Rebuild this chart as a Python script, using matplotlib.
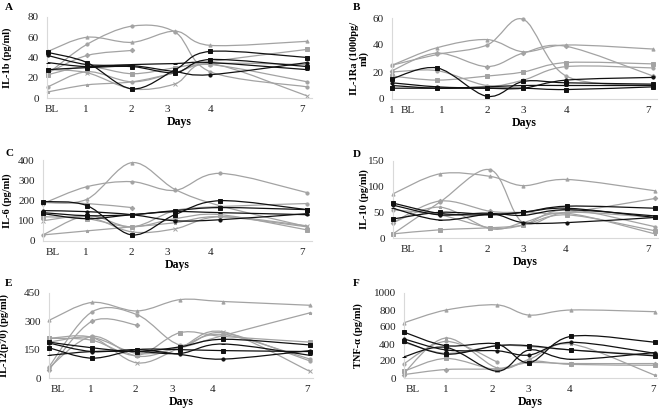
#Cytokine time courses, six panels (A-F)

import numpy as np
import matplotlib
matplotlib.use("Agg")
import matplotlib.pyplot as plt
from matplotlib.path import Path
from matplotlib.patches import PathPatch

plt.rcParams['font.family'] = ['Liberation Serif', 'DejaVu Serif']

days = ["BL", "1", "2", "3", "4", "7"]
nan = np.nan

#sampling times as drawn on each panel's x axis
t_il1b = [0.02, 0.93, 1.98, 2.98, 3.79, 6.05]
t_il1ra = [0.0, 1.05, 2.21, 3.05, 4.05, 6.07]
t_il6 = [0.0, 1.02, 2.07, 3.07, 4.12, 6.14]
t_il10 = [0.0, 1.09, 2.26, 3.02, 4.05, 6.09]
t_il12 = [0.0, 1.0, 2.05, 3.05, 4.05, 6.07]
t_tnf = [0.0, 0.98, 2.16, 2.91, 3.88, 5.84]

il1b_gray = [[46, 60, 55, 66, 52, 56],
             [24, 53, 71, 65, 26, 11],
             [25, 42, 47, nan, nan, nan],
             [23, 31, 24, 30, 36, 48],
             [11, 26, 16, 25, 33, 16],
             [6, 13, 16, 25, 34, 33],
             [28, 25, 9, 14, 34, 2]]
il1b_black = [[45, 35, 9, 28, 46, 40],
              [42, 33, 32, 26, 23, 35],
              [35, 31, 33, 34, 35, 28],
              [28, 30, 31, 25, 38, 31]]

il1ra_gray = [[25, 38, 44, 35, 40, 37],
              [25, 33, 40, 59, 17, 10],
              [21, 34, 24, 34, 39, 17],
              [17, 14, 17, 20, 27, 26],
              [20, 21, 10, 14, 24, 23]]
il1ra_black = [[15, 23, 2, 13, 12, 11],
               [12, 9, 8, 8, 14, 16],
               [10, 8, 9, 10, 10, 10],
               [8, 8, 8, 8, 7, 9]]

il6_gray = [[191, 206, 387, 255, 174, 71],
            [185, 268, 293, 250, 334, 239],
            [190, 185, 165, nan, nan, nan],
            [120, 110, 70, 110, 130, 55],
            [30, 125, 70, 150, 170, 185],
            [30, 50, 70, 90, 120, 70],
            [100, 120, 45, 60, 120, 75]]
il6_black = [[195, 175, 30, 130, 199, 155],
             [150, 145, 130, 100, 105, 135],
             [135, 110, 130, 145, 140, 130],
             [140, 125, 130, 150, 165, 155]]

il10_gray = [[86, 125, 120, 102, 114, 92],
             [8, 70, 133, 30, 50, 40],
             [30, 72, 52, 50, 50, 77],
             [8, 16, 20, 25, 45, 14],
             [55, 45, 20, 25, 55, 22],
             [30, 60, 18, 30, 48, 8]]
il10_black = [[68, 48, 45, 50, 62, 58],
              [64, 45, 48, 30, 30, 40],
              [58, 35, 47, 44, 55, 43],
              [37, 50, 46, 50, 58, 40]]

il12_gray = [[305, 400, 355, 415, 405, 385],
             [60, 350, 335, 175, 240, 90],
             [45, 300, 280, nan, nan, nan],
             [210, 200, 120, 240, 220, 190],
             [55, 220, 115, 165, 230, 100],
             [190, 215, 130, 160, 225, 345],
             [210, 215, 80, 160, 245, 35]]
il12_black = [[190, 160, 140, 165, 205, 175],
              [185, 140, 150, 125, 100, 145],
              [120, 140, 140, 130, 180, 120],
              [160, 105, 150, 150, 145, 140]]

tnf_gray = [[650, 800, 860, 740, 800, 780],
            [170, 430, 190, nan, nan, nan],
            [40, 100, 110, 180, 170, 170],
            [80, 230, 100, 200, 160, 150],
            [420, 290, 380, 370, 330, 270],
            [60, 470, 120, 220, 400, 30]]
tnf_black = [[540, 380, 400, 180, 490, 420],
             [460, 330, 320, 270, 420, 290],
             [250, 360, 80, 330, 220, 300],
             [430, 280, 380, 380, 330, 260]]

#layout: pixel box (left, right, top, bottom), label x positions, y ticks
panels = [
    dict(tag="A", t=t_il1b, gray=il1b_gray, black=il1b_black, box=(47, 312, 17, 98), xmax=6.16,
         lx=[0.12, 0.91, 1.95, 2.79, 3.81, 5.93], lab=days, yt=np.arange(0, 81, 20),
         ylab="IL-1b (pg/ml)", ylx=12, tagxy=(5, 7)),
    dict(tag="B", t=t_il1ra, gray=il1ra_gray, black=il1ra_black, box=(392, 657, 18, 99), xmax=6.16,
         lx=[0.0, 0.37, 1.16, 2.21, 3.05, 4.05, 5.95], lab=["1"] + days, yt=np.arange(0, 61, 20),
         ylab="IL-1Ra (1000pg/\nml)", ylx=369, tagxy=(353, 7)),
    dict(tag="C", t=t_il6, gray=il6_gray, black=il6_black, box=(43, 312, 160, 241), xmax=6.26,
         lx=[0.23, 1.0, 2.05, 2.88, 3.91, 6.02], lab=days, yt=np.arange(0, 401, 100),
         ylab="IL-6 (pg/ml)", ylx=12, tagxy=(5, 153)),
    dict(tag="D", t=t_il10, gray=il10_gray, black=il10_black, box=(393, 658, 161, 238), xmax=6.16,
         lx=[0.35, 1.12, 2.19, 3.02, 4.02, 5.93], lab=days, yt=np.arange(0, 151, 50),
         ylab="IL-10 (pg/ml)", ylx=369, tagxy=(353, 155)),
    dict(tag="E", t=t_il12, gray=il12_gray, black=il12_black, box=(49, 313, 293, 378), xmax=6.14,
         lx=[0.21, 0.98, 2.0, 2.86, 3.81, 6.0], lab=days, yt=np.arange(0, 451, 150),
         ylab="IL-12(p70) (pg/ml)", ylx=9, tagxy=(5, 283)),
    dict(tag="F", t=t_tnf, gray=tnf_gray, black=tnf_black, box=(404, 657, 293, 378), xmax=5.88,
         lx=[0.21, 0.98, 2.05, 2.88, 3.84, 5.79], lab=days, yt=np.arange(0, 1001, 200),
         ylab="TNF-\u03b1 (pg/ml)", ylx=363, tagxy=(353, 283)),
]

grayMk = ['^', 'o', 'D', 's', 'o', '*', 'x']
blackMk = ['s', 'o', '_', 's']
cGray = '#a3a3a3'
cBlack = '#111111'
W, H = 660.0, 413.0


def smoothPath(x, y):
    #Excel-style smoothed line as cubic Bezier segments
    n = len(x)
    verts = [(x[0], y[0])]
    codes = [Path.MOVETO]
    for i in range(n-1):
        i0 = max(i-1, 0)
        i3 = min(i+2, n-1)
        c1 = (x[i] + (x[i+1]-x[i0])/6.0, y[i] + (y[i+1]-y[i0])/6.0)
        c2 = (x[i+1] - (x[i3]-x[i])/6.0, y[i+1] - (y[i3]-y[i])/6.0)
        verts += [c1, c2, (x[i+1], y[i+1])]
        codes += [Path.CURVE4]*3
    return Path(verts, codes)


def drawSeries(ax, t, v, col, mk, z):
    t = np.asarray(t, float)
    v = np.asarray(v, float)
    ok = ~np.isnan(v)
    t, v = t[ok], v[ok]
    ax.add_patch(PathPatch(smoothPath(t, v), fill=False, edgecolor=col, lw=0.9, zorder=z, clip_on=False))
    ax.plot(t, v, ls='none', marker=mk, ms=2.3, mew=0.7, color=col, zorder=z+0.5, clip_on=False)


fig = plt.figure(figsize=(6.6, 4.13), dpi=100)

for p in panels:
    l, r, tp, b = p['box']
    ax = fig.add_axes([l/W, 1-b/H, (r-l)/W, (b-tp)/H])
    for k, v in enumerate(p['gray']):
        drawSeries(ax, p['t'], v, cGray, grayMk[k % len(grayMk)], 2)
    for k, v in enumerate(p['black']):
        drawSeries(ax, p['t'], v, cBlack, blackMk[k % len(blackMk)], 3)
    ax.set_xlim(0, p['xmax'])
    ax.set_ylim(0, p['yt'][-1])
    ax.set_yticks(p['yt'])
    ax.set_xticks(p['lx'])
    ax.set_xticklabels(p['lab'])
    for s in ['top', 'right']:
        ax.spines[s].set_visible(False)
    for s in ['left', 'bottom']:
        ax.spines[s].set_color('#d9d9d9')
        ax.spines[s].set_linewidth(0.8)
    ax.tick_params(axis='both', length=0, labelsize=8, colors='#222222')
    ax.tick_params(axis='y', pad=6)
    ax.tick_params(axis='x', pad=5)
    ax.set_xlabel("Days", fontsize=8.5, fontweight='bold', labelpad=1.5)
    ax.set_ylabel(p['ylab'], fontsize=7.5, fontweight='bold', linespacing=1.0)
    ax.yaxis.set_label_coords((p['ylx']-l)/(r-l), 0.5)
    fig.text(p['tagxy'][0]/W, 1-p['tagxy'][1]/H, p['tag'], fontsize=8, fontweight='bold',
             ha='left', va='center')

plt.savefig("out.png", dpi=100)
plt.close('all')
